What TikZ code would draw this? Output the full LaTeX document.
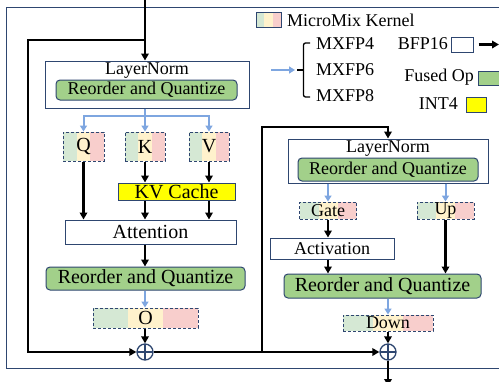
\documentclass[tikz,border=0pt]{standalone}
\usepackage{fontspec}
\setmainfont{Liberation Serif}
\usetikzlibrary{arrows.meta,calc}
\definecolor{cg}{HTML}{D5E8D4}
\definecolor{cy}{HTML}{FFF2CC}
\definecolor{cp}{HTML}{F8CECC}
\definecolor{fuse}{HTML}{A2D08A}
\definecolor{navy}{HTML}{2E4670}
\definecolor{lblue}{HTML}{7EA6E0}
\definecolor{kvy}{HTML}{FFFF00}
\tikzset{
  fs/.style={font=\fontsize{18}{20}\selectfont},
  fl/.style={font=\fontsize{20}{22}\selectfont},
  sz/.style 2 args={minimum width=#1pt, minimum height=#2pt},
  box/.style={draw=navy, line width=1pt, inner sep=0pt, anchor=center},
  fused/.style={box, fill=fuse, rounded corners=4pt},
  stripes/.style={path picture={
    \fill[cg] (path picture bounding box.south west) rectangle ($(path picture bounding box.north west)!1/3!(path picture bounding box.north east)$);
    \fill[cy] ($(path picture bounding box.south west)!1/3!(path picture bounding box.south east)$) rectangle ($(path picture bounding box.north west)!2/3!(path picture bounding box.north east)$);
    \fill[cp] ($(path picture bounding box.south west)!2/3!(path picture bounding box.south east)$) rectangle (path picture bounding box.north east);
  }},
  mixbox/.style={box, stripes, dash pattern=on 3pt off 2pt},
  plus/.style={circle, draw=navy, line width=1.3pt, minimum size=16pt, inner sep=0pt,
    path picture={\draw[navy, line width=1.3pt] (path picture bounding box.north) -- (path picture bounding box.south) (path picture bounding box.west) -- (path picture bounding box.east);}},
  blk/.style={line width=2.2pt, -{Triangle[length=7pt,width=7.5pt]}},
  bl/.style={draw=lblue, line width=2pt, -{Triangle[length=6pt,width=7pt]}},
  blline/.style={draw=lblue, line width=2pt},
  txt/.style={inner sep=0pt},
}
\begin{document}
\begin{tikzpicture}[x=1pt, y=-1pt]
\useasboundingbox (0,0) rectangle (499,381);
\fill[white] (0,0) rectangle (499,381);
% frame
\draw[navy, line width=1pt] (6,7) rectangle (515,368);

% ---------- attention block ----------
\node[box, sz={204}{47}] (ln1) at (147,84.5) {};
\node[txt, fs] (ln1t) at (147,71) {LayerNorm};
\node[fused, sz={181}{20}, fs] (rq1) at (146.5,90) {Reorder and Quantize};
\node[mixbox, sz={41}{29}, fl] (Q) at (83.5,146.5) {Q};
\node[mixbox, sz={40}{29}, fl] (K) at (145,146.5) {K};
\node[mixbox, sz={40}{29}, fl] (V) at (209,146.5) {V};
\node[box, fill=kvy, sz={117}{17}, fl] (kv) at (176.5,191.5) {KV Cache};
\node[box, fill=white, sz={171}{24}, fl] (att) at (150.5,232) {Attention};
\node[fused, sz={199}{23}, fl] (rq2) at (145.5,278.5) {Reorder and Quantize};
\node[mixbox, sz={105}{20}, fl] (O) at (145.5,318) {O};
\node[plus] (op1) at (145,352) {};

% ---------- MLP block ----------
\node[box, sz={200}{44}] (ln2) at (388,161) {};
\node[txt, fs] (ln2t) at (388,149) {LayerNorm};
\node[fused, sz={180}{23}, fs] (rq3) at (388,169.5) {Reorder and Quantize};
\node[mixbox, sz={57}{17}, fs] (gate) at (328,210.5) {Gate};
\node[mixbox, sz={57}{17}, fs] (up) at (445.5,210.5) {Up};
\node[box, fill=white, sz={124}{21}, fs] (act) at (332,248.5) {Activation};
\node[fused, sz={197}{24}, fl] (rq4) at (382.5,286) {Reorder and Quantize};
\node[mixbox, sz={90}{16}, fs] (down) at (388,323) {Down};
\node[plus] (op2) at (388,352) {};

% ---------- connectors: attention ----------
\coordinate (in) at (145,-3);
\draw[blk] (in) -- (in |- ln1.north);
\coordinate (r1) at (145,40);
\coordinate (r1c) at (28,40);
\draw[blk] (r1) -- (r1c) |- (op1.west);
\coordinate (bsplit) at (145,116);
\draw[blline] (K.north |- ln1.south) -- (bsplit);
\draw[bl] (bsplit) -- (K.north);
\draw[bl] (bsplit) -| (Q.north);
\draw[bl] (bsplit) -| (V.north);
\draw[blk] (Q.south) -- (Q.south |- att.north);
\draw[blk] (K.south) -- (K.south |- kv.north);
\draw[blk] (V.south) -- (V.south |- kv.north);
\draw[blk] (K.south |- kv.south) -- (K.south |- att.north);
\draw[blk] (V.south |- kv.south) -- (V.south |- att.north);
\draw[blk] (K.south |- att.south) -- (K.south |- rq2.north);
\draw[bl] (K.south |- rq2.south) -- (K.south |- O.north);
\draw[blk] (O.south -| op1.north) -- (op1.north);

% ---------- connectors: MLP ----------
\draw[blk] (op1.east) -- (op2.west);
\coordinate (r2) at (262,352);
\coordinate (r2t) at (262,127);
\draw[blk] (r2) -- (r2t) -| (ln2.north);
\draw[bl] (gate.north |- ln2.south) -- (gate.north);
\draw[bl] (up.north |- ln2.south) -- (up.north);
\draw[blk] (gate.south) -- (gate.south |- act.north);
\draw[blk] (gate.south |- act.south) -- (gate.south |- rq4.north);
\draw[blk] (up.south) -- (up.south |- rq4.north);
\draw[bl] (down.north |- rq4.south) -- (down.north);
\draw[blk] (down.south) -- (op2.north);
\coordinate (out) at (388,386);
\draw[blk] (op2.south) -- (out);

% ---------- legend ----------
\node[box, stripes, sz={25}{15}] (lgmix) at (268.5,19.5) {};
\node[txt, fs, anchor=west] (lgmixt) at (287,20) {MicroMix Kernel};
\coordinate (la1) at (271,70);
\coordinate (brt) at (297,70);
\draw[bl] (la1) -- (295,70);
\coordinate (brtop) at (310,43);
\coordinate (brbot) at (310,97);
\draw[line width=1.3pt, rounded corners=2pt] (brtop) -- (303.5,43) -- (303.5,97) -- (brbot);
\draw[line width=1.3pt] (brt) -- (303.5,70);
\node[txt, fs, anchor=west] (mx4) at (316,44) {MXFP4};
\node[txt, fs, anchor=west] (mx6) at (316,70) {MXFP6};
\node[txt, fs, anchor=west] (mx8) at (316,96) {MXFP8};
\node[txt, fs, anchor=east] (lgbft) at (448,44) {BFP16};
\node[box, fill=white, sz={22}{15}] (lgbf) at (462,44.5) {};
\coordinate (lgE) at (499,44.5);
\draw[blk] ([xshift=5pt]lgbf.east) -- (lgE);
\node[txt, fs, anchor=east] (lgfut) at (474,77) {Fused Op};
\node[box, fill=fuse, sz={27}{14}] (lgfu) at (491.5,78) {};
\node[txt, fs, anchor=east] (lgint) at (458,104) {INT4};
\node[box, fill=kvy, sz={20}{15}] (lgi4) at (476,104.5) {};
\end{tikzpicture}
\end{document}
